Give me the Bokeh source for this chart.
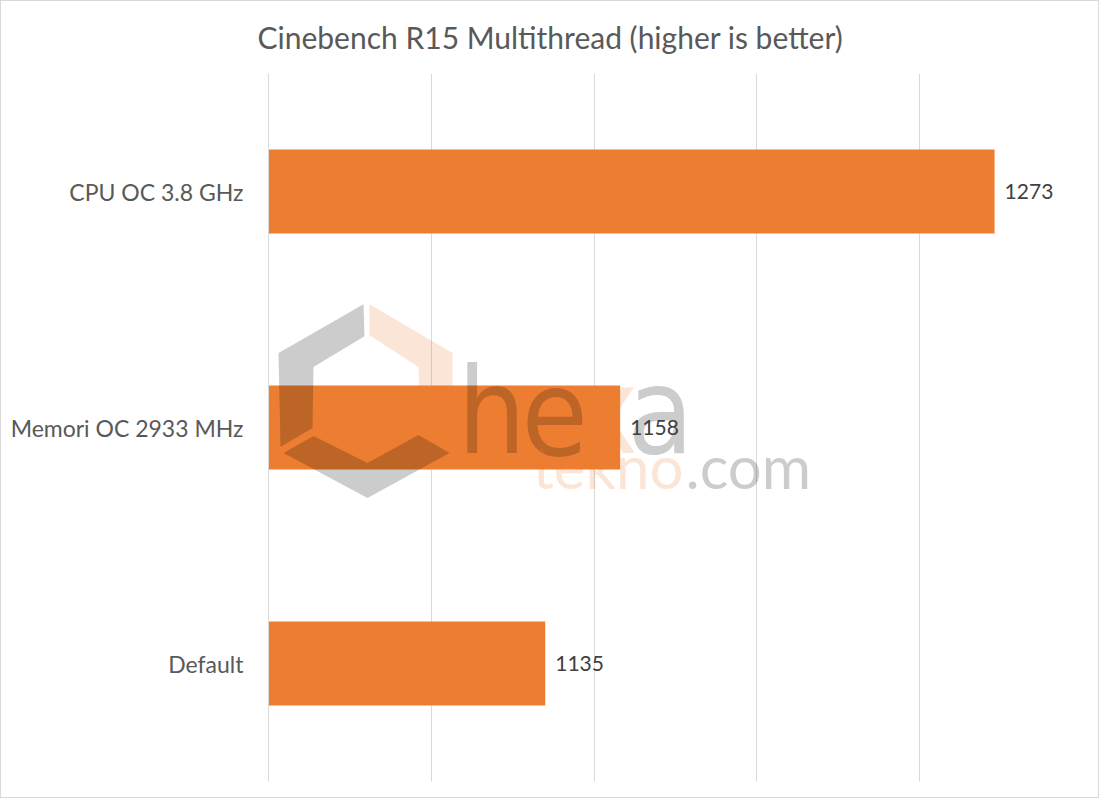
from bokeh.plotting import figure
from bokeh.models import Range1d, FactorRange, FixedTicker, ColumnDataSource
from bokeh.core.properties import value
from bokeh.embed import file_html
from bokeh.resources import INLINE

categories = ["Default", "Memori OC 2933 MHz", "CPU OC 3.8 GHz"]
scores = [1135, 1158, 1273]
x_ticks = [1050, 1100, 1150, 1200, 1250, 1300]
title_text = "Cinebench R15 Multithread (higher is better)"

FONT = "Lato"
src = ColumnDataSource(dict(cat=categories, score=scores, label=[str(s) for s in scores]))

p = figure(width=1099, height=798, output_backend="svg", toolbar_location=None,
           x_range=Range1d(x_ticks[0], x_ticks[-1]), y_range=FactorRange(*categories),
           min_border_left=267, min_border_right=18, min_border_top=71, min_border_bottom=18)
p.styles = {"border": "1px solid #d9d9d9"}
p.outline_line_color = None

p.title.text = title_text
p.title.align = "left"
p.title.vertical_align = "top"
p.title.offset = -11
p.title.standoff = 34
p.title.text_font = FONT
p.title.text_font_size = "30px"
p.title.text_font_style = "normal"
p.title.text_color = "#595959"

p.hbar(y="cat", left=x_ticks[0], right="score", height=0.355, source=src,
       fill_color="#ED7D31", line_color=None)

p.xaxis.visible = False
p.xgrid.ticker = FixedTicker(ticks=x_ticks)
p.xgrid.grid_line_color = "#d9d9d9"
p.ygrid.grid_line_color = None

ax = p.yaxis[0]
ax.major_tick_line_color = None
ax.minor_tick_line_color = None
ax.axis_line_color = "#d9d9d9"
ax.major_label_standoff = 19
ax.major_label_text_font = FONT
ax.major_label_text_font_size = "23px"
ax.major_label_text_color = "#595959"

# ---- "hexatekno.com" watermark overlay (decoration, placed in page pixels) ----
FL, FR, FT, FB = 268, 1082, 72, 781
def wx(px):
    return x_ticks[0] + (px - FL) * (x_ticks[-1] - x_ticks[0]) / (FR - FL)
def wy(py):
    return len(categories) * (FB - py) / (FB - FT)

grey_parts = [
    [(363, 303), (364, 335), (313, 366), (312, 427), (280, 446), (278, 352)],
    [(283, 452), (313, 435), (367, 462), (418, 434), (449, 452), (367, 497)],
]
peach_parts = [
    [(369, 303), (452, 352), (452, 446), (420, 427), (418, 366), (369, 334)],
]
p.patches([[wx(a) for a, b in s] for s in grey_parts], [[wy(b) for a, b in s] for s in grey_parts],
          fill_color="black", fill_alpha=0.2, line_color=None)
p.patches([[wx(a) for a, b in s] for s in peach_parts], [[wy(b) for a, b in s] for s in peach_parts],
          fill_color="#ED7D31", fill_alpha=0.2, line_color=None)

wm_letters = ["h", "e", "x", "a"]
wm_left = [457, 521, 574, 627]
wm_color = ["black", "black", "#ED7D31", "black"]
p.text(x=[wx(v) for v in wm_left], y=[wy(410)] * 4, text=wm_letters,
       text_color=wm_color, text_alpha=0.2, text_font=value("DejaVu Sans Condensed"),
       text_font_size="120px", text_baseline="middle", text_align="left")
p.text(x=[wx(683), wx(685)], y=[wy(465)] * 2, text=["tekno", ".com"],
       text_color=["#ED7D31", "black"], text_alpha=0.2, text_font=value(FONT),
       text_font_size="60px", text_baseline="middle", text_align=["right", "left"])

p.text(x="score", y="cat", text="label", source=src, x_offset=10,
       text_baseline="middle", text_align="left", text_font=value(FONT),
       text_font_size="21px", text_color="#404040")

open("out.html", "w").write(file_html(p, INLINE))
